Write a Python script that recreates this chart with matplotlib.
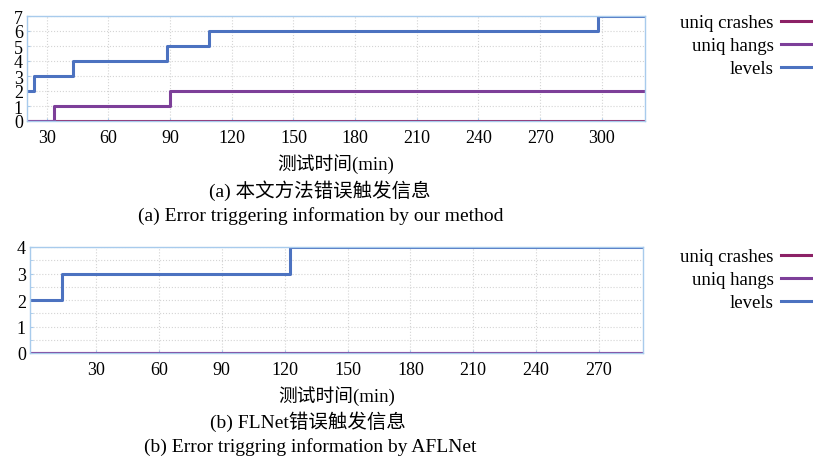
import matplotlib
matplotlib.use("Agg")
import matplotlib.pyplot as plt
from matplotlib.ticker import MultipleLocator, FixedLocator

plt.rcParams['font.family'] = ['Liberation Serif', 'Noto Sans CJK SC']

# step change points (minutes, count) for each run
our_levels_t = [20, 24, 43, 88.5, 109, 298, 321]
our_levels_v = [2, 3, 4, 5, 6, 7, 7]
our_hangs_t = [20, 33.5, 90, 321]
our_hangs_v = [0, 1, 2, 2]
our_crashes_t = [20, 321]
our_crashes_v = [0, 0]

afl_levels_t = [-1.5, 14, 122.5, 291]
afl_levels_v = [2, 3, 4, 4]
afl_hangs_t = [-1.5, 291]
afl_hangs_v = [0, 0]
afl_crashes_t = [-1.5, 291]
afl_crashes_v = [0, 0]

labels = ['uniq crashes', 'uniq hangs', 'levels']
colors = ['#8c2166', '#7d3f99', '#4c72c0']
spine_c = '#a8cbec'

fig = plt.figure(figsize=(8.13, 4.6), dpi=100)
px = lambda x, y: (x / 813, 1 - y / 460)

def draw(ax, series, xlim, xticks, ymax, ytick_minor, anchor):
    lines = []
    for (t, v), lab, c in zip(series, labels, colors):
        ln, = ax.step(t, v, where='post', color=c, lw=2.2, label=lab)
        lines.append(ln)
    ax.set_xlim(*xlim)
    ax.set_ylim(0, ymax)
    ax.xaxis.set_major_locator(FixedLocator(xticks))
    ax.yaxis.set_major_locator(MultipleLocator(1))
    ax.yaxis.set_minor_locator(MultipleLocator(ytick_minor))
    ax.grid(True, which='major', color='#d4d4d4', ls=':', lw=0.8)
    if ytick_minor < 1:
        ax.grid(True, which='minor', axis='y', color='#d4d4d4', ls=':', lw=0.8)
    for s in ax.spines.values():
        s.set_color(spine_c)
        s.set_linewidth(1.0)
    ax.tick_params(which='both', direction='in', color=spine_c, length=2, labelsize=13, pad=3)
    ax.tick_params(axis='x', pad=6)
    ax.set_xlabel('测试时间(min)', fontsize=13.5, labelpad=5)
    ax.legend(handles=lines, loc='upper right', frameon=False, markerfirst=False,
              fontsize=13.5, handlelength=2.6, handletextpad=0.4, labelspacing=0.32,
              borderpad=0, borderaxespad=0,
              bbox_to_anchor=px(*anchor), bbox_transform=fig.transFigure)
    return lines

ax1 = fig.add_axes([27 / 813, 1 - 122 / 460, 618 / 813, 105 / 460])
draw(ax1, [(our_crashes_t, our_crashes_v), (our_hangs_t, our_hangs_v),
           (our_levels_t, our_levels_v)], (20.4, 321), range(30, 301, 30),
     7, 1, (830, 15))

ax2 = fig.add_axes([30 / 813, 1 - 354 / 460, 613 / 813, 106 / 460])
draw(ax2, [(afl_crashes_t, afl_crashes_v), (afl_hangs_t, afl_hangs_v),
           (afl_levels_t, afl_levels_v)], (-1.5, 291), range(30, 271, 30),
     4, 0.5, (830, 249))

fig.text(*px(320, 191), '(a) 本文方法错误触发信息', ha='center', va='center', fontsize=14)
fig.text(*px(321, 216), '(a) Error triggering information by our method', ha='center', va='center', fontsize=14)
fig.text(*px(308, 422), '(b) FLNet错误触发信息', ha='center', va='center', fontsize=14)
fig.text(*px(310, 447), '(b) Error triggring information by AFLNet', ha='center', va='center', fontsize=14)

fig.savefig('out.png', dpi=100)
